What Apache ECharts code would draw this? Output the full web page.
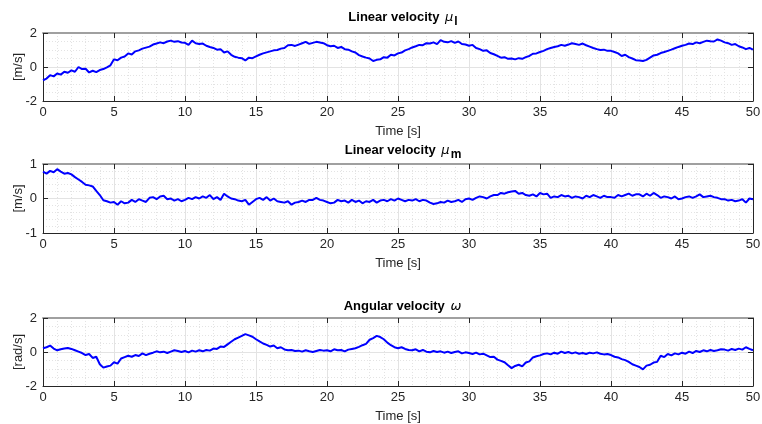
<!DOCTYPE html>
<html>
<head>
<meta charset="utf-8">
<script src="https://cdn.jsdelivr.net/npm/echarts@6/dist/echarts.min.js"></script>
<style>
  html, body { margin: 0; padding: 0; background: #fff; }
  #chart { width: 762px; height: 424px; }
</style>
</head>
<body>
<div id="chart"></div>
<script>
// sample step of the traces [s]
var step = 0.25;

// linear velocity mu_l [m/s], one value every 0.25 s from 0 to 50 s
var velL = [
  -0.78, -0.68, -0.48, -0.55, -0.38, -0.45, -0.28, -0.34, -0.20, -0.28, 0.00, -0.12, -0.10, -0.32, -0.22, -0.30, -0.18, -0.12, -0.02, 0.10,
  0.45, 0.40, 0.55, 0.62, 0.80, 0.74, 0.92, 0.98, 1.08, 1.14, 1.20, 1.32, 1.38, 1.45, 1.40, 1.50, 1.55, 1.48, 1.52, 1.44,
  1.42, 1.30, 1.55, 1.40, 1.35, 1.38, 1.25, 1.18, 1.12, 1.02, 1.05, 0.85, 0.92, 0.72, 0.60, 0.55, 0.52, 0.38, 0.55, 0.52,
  0.62, 0.72, 0.80, 0.86, 0.92, 0.98, 1.00, 1.08, 1.12, 1.28, 1.30, 1.24, 1.32, 1.40, 1.48, 1.36, 1.42, 1.48, 1.44, 1.40,
  1.28, 1.22, 1.25, 1.12, 1.18, 1.05, 1.02, 0.92, 0.85, 0.70, 0.62, 0.55, 0.50, 0.35, 0.42, 0.45, 0.58, 0.55, 0.72, 0.68,
  0.80, 0.85, 0.98, 1.05, 1.15, 1.22, 1.30, 1.28, 1.40, 1.38, 1.45, 1.35, 1.58, 1.48, 1.45, 1.52, 1.42, 1.50, 1.35, 1.32,
  1.25, 1.30, 1.12, 1.05, 0.95, 0.98, 0.82, 0.75, 0.65, 0.55, 0.58, 0.48, 0.50, 0.45, 0.52, 0.48, 0.58, 0.65, 0.78, 0.80,
  0.88, 0.95, 1.05, 1.12, 1.18, 1.22, 1.30, 1.25, 1.32, 1.40, 1.35, 1.30, 1.38, 1.28, 1.20, 1.12, 1.05, 1.00, 1.02, 0.95,
  0.95, 0.88, 0.80, 0.65, 0.72, 0.58, 0.50, 0.40, 0.38, 0.35, 0.42, 0.55, 0.68, 0.72, 0.82, 0.88, 0.95, 1.02, 1.10, 1.18,
  1.25, 1.30, 1.38, 1.35, 1.45, 1.40, 1.48, 1.55, 1.52, 1.50, 1.62, 1.55, 1.45, 1.40, 1.30, 1.35, 1.22, 1.15, 1.05, 1.12,
  1.02
];

// linear velocity mu_m [m/s]
var velM = [
  0.78, 0.72, 0.80, 0.76, 0.85, 0.78, 0.72, 0.74, 0.70, 0.62, 0.55, 0.48, 0.40, 0.38, 0.35, 0.22, 0.10, -0.05, -0.08, -0.12,
  -0.10, -0.18, -0.08, -0.14, -0.12, -0.04, -0.10, -0.02, -0.06, -0.10, 0.02, 0.04, -0.02, 0.06, 0.08, -0.02, 0.00, -0.06, -0.02, -0.08,
  -0.04, 0.02, -0.02, 0.04, 0.00, 0.06, 0.02, 0.10, -0.02, 0.04, -0.04, 0.14, 0.06, 0.00, -0.02, -0.06, -0.08, -0.04, -0.18, -0.10,
  -0.02, 0.02, -0.04, 0.04, -0.06, 0.00, -0.08, -0.10, -0.12, -0.08, -0.18, -0.12, -0.10, -0.06, -0.10, -0.04, -0.04, 0.02, -0.04, -0.06,
  -0.10, -0.14, -0.12, -0.04, -0.08, -0.06, -0.12, -0.04, -0.10, -0.06, -0.14, -0.08, -0.10, -0.04, -0.12, -0.06, -0.04, -0.08, -0.02, -0.06,
  0.00, -0.04, -0.08, -0.04, -0.06, -0.02, -0.08, -0.04, -0.06, -0.12, -0.16, -0.14, -0.10, -0.12, -0.06, -0.10, -0.08, -0.04, -0.10, -0.02,
  0.00, -0.04, 0.02, 0.06, 0.04, 0.00, 0.06, 0.10, 0.10, 0.16, 0.14, 0.18, 0.20, 0.22, 0.14, 0.16, 0.10, 0.08, 0.12, 0.06,
  0.16, 0.12, 0.14, 0.02, 0.06, 0.04, 0.10, 0.06, 0.08, 0.02, 0.06, 0.04, 0.00, 0.08, 0.04, 0.10, 0.06, 0.02, 0.08, 0.04,
  0.04, 0.02, 0.10, 0.06, 0.10, 0.14, 0.08, 0.12, 0.12, 0.06, 0.14, 0.08, 0.16, 0.10, 0.02, 0.06, 0.04, 0.00, 0.06, -0.02,
  0.00, 0.04, 0.06, 0.02, 0.06, 0.12, 0.04, 0.06, 0.08, 0.04, 0.02, -0.02, -0.02, -0.06, -0.04, -0.08, -0.06, -0.02, -0.12, 0.00,
  -0.02
];

// angular velocity omega [rad/s]
var velW = [
  0.22, 0.28, 0.38, 0.20, 0.10, 0.16, 0.20, 0.24, 0.18, 0.10, 0.02, -0.06, -0.18, -0.12, -0.35, -0.28, -0.72, -0.92, -0.85, -0.80,
  -0.60, -0.68, -0.38, -0.30, -0.22, -0.28, -0.18, -0.24, -0.08, -0.18, -0.10, -0.04, 0.04, -0.02, 0.02, -0.06, 0.02, 0.10, 0.06, 0.00,
  0.06, -0.02, 0.08, 0.02, 0.10, 0.04, 0.12, 0.08, 0.20, 0.18, 0.32, 0.30, 0.45, 0.60, 0.75, 0.85, 0.95, 1.05, 0.98, 0.90,
  0.75, 0.62, 0.50, 0.42, 0.32, 0.38, 0.22, 0.28, 0.15, 0.10, 0.12, 0.06, 0.08, 0.02, 0.10, 0.04, 0.00, 0.06, 0.12, 0.08,
  0.10, 0.04, 0.16, 0.10, 0.12, 0.04, 0.14, 0.18, 0.22, 0.30, 0.40, 0.48, 0.72, 0.82, 0.95, 0.88, 0.75, 0.55, 0.40, 0.28,
  0.22, 0.28, 0.18, 0.12, 0.10, 0.16, 0.04, 0.12, 0.02, -0.02, 0.06, 0.00, 0.04, -0.04, 0.02, -0.06, 0.00, 0.04, -0.08, -0.02,
  -0.06, -0.12, -0.04, -0.14, -0.10, -0.20, -0.30, -0.28, -0.45, -0.52, -0.60, -0.78, -0.95, -0.82, -0.75, -0.85, -0.62, -0.55, -0.32, -0.25,
  -0.20, -0.12, -0.08, -0.14, -0.04, -0.10, 0.02, -0.06, 0.00, -0.08, -0.02, -0.10, -0.06, -0.12, -0.04, -0.08, -0.02, -0.10, -0.14, -0.12,
  -0.18, -0.28, -0.32, -0.42, -0.48, -0.58, -0.72, -0.80, -0.88, -1.02, -0.80, -0.75, -0.62, -0.58, -0.22, -0.30, -0.12, -0.20, -0.08, -0.14,
  -0.04, -0.10, 0.02, -0.06, 0.06, 0.00, 0.10, 0.04, 0.12, 0.06, 0.10, 0.16, 0.14, 0.08, 0.18, 0.12, 0.20, 0.14, 0.28, 0.18,
  0.10
];

var titles = ['Linear velocity ', 'Linear velocity ', 'Angular velocity '];
var symbols = ['μ', 'μ', 'ω'];
var subs = ['l', 'm', ''];
var yNames = ['[m/s]', '[m/s]', '[rad/s]'];
var yMin = [-2, -1, -2];
var yMax = [2, 1, 2];
var yStep = [2, 1, 2];
var yMinor = [4, 5, 4];
var xName = 'Time [s]';

var gridTops = [33, 164, 318];
var gridH = [68, 69, 68];
var titleTops = [2, 135, 295];

var chart = echarts.init(document.getElementById('chart'));
var font = 'Liberation Sans, Arial, sans-serif';
var dark = '#262626';

function pairs(arr) {
  return arr.map(function (v, i) { return [i * step, v]; });
}

var grid = [], xAxis = [], yAxis = [], series = [], title = [];
var allData = [velL, velM, velW];

for (var k = 0; k < 3; k++) {
  grid.push({ left: 43, width: 710, top: gridTops[k], height: gridH[k], show: false, containLabel: false, outerBoundsMode: 'none' });
  title.push({
    text: '{b|' + titles[k] + '}{s|' + symbols[k] + '}' + (subs[k] ? '{sub|' + subs[k] + '}' : ''),
    left: 398, top: titleTops[k], textAlign: 'center',
    textStyle: {
      fontWeight: 'normal',
      rich: {
        b: { fontFamily: font, fontSize: 13, fontWeight: 'bold', color: '#000' },
        s: { fontFamily: 'DejaVu Sans, sans-serif', fontSize: 13, fontStyle: 'italic', fontWeight: 'normal', color: '#000', padding: [0, 1, 0, 2] },
        sub: { fontFamily: font, fontSize: 12, fontWeight: 'bold', color: '#000', padding: [9, 0, 0, 0] }
      }
    }
  });
  // bottom x axis
  xAxis.push({
    type: 'value', gridIndex: k, min: 0, max: 50, interval: 5, position: 'bottom',
    name: xName, nameLocation: 'middle', nameGap: 24,
    nameTextStyle: { fontFamily: font, fontSize: 13, color: dark },
    axisLine: { onZero: false, lineStyle: { color: dark, width: 1 } },
    axisTick: { inside: true, length: 5, lineStyle: { color: dark } },
    axisLabel: { fontFamily: font, fontSize: 13, color: dark, margin: 5 },
    minorTick: { show: false, splitNumber: 5 },
    splitLine: { show: true, lineStyle: { color: '#e3e3e3', width: 1 } },
    minorSplitLine: { show: true, lineStyle: { color: '#e3e3e3', type: [1, 2], width: 1 } }
  });
  // top x axis (box)
  xAxis.push({
    type: 'value', gridIndex: k, min: 0, max: 50, interval: 5, position: 'top',
    axisLine: { onZero: false, lineStyle: { color: '#a0a0a0', width: 2 } },
    axisTick: { inside: true, length: 5, lineStyle: { color: dark } },
    axisLabel: { show: false },
    splitLine: { show: false }
  });
  yAxis.push({
    type: 'value', gridIndex: k, min: yMin[k], max: yMax[k], interval: yStep[k], position: 'left',
    name: yNames[k], nameLocation: 'middle', nameGap: 18, nameMoveOverlap: false,
    nameTextStyle: { fontFamily: font, fontSize: 13, color: dark },
    axisLine: { show: true, onZero: false, lineStyle: { color: dark, width: 1 } },
    axisTick: { show: true, inside: true, length: 5, lineStyle: { color: dark } },
    axisLabel: { fontFamily: font, fontSize: 13, color: dark, margin: 6 },
    minorTick: { show: false, splitNumber: yMinor[k] },
    splitLine: { show: true, lineStyle: { color: '#e3e3e3', width: 1 } },
    minorSplitLine: { show: true, lineStyle: { color: '#e3e3e3', type: [1, 2], width: 1 } }
  });
  yAxis.push({
    type: 'value', gridIndex: k, min: yMin[k], max: yMax[k], interval: yStep[k], position: 'right',
    axisLine: { show: true, onZero: false, lineStyle: { color: dark, width: 1 } },
    axisTick: { show: true, inside: true, length: 5, lineStyle: { color: dark } },
    axisLabel: { show: false },
    splitLine: { show: false }
  });
  series.push({
    type: 'line', xAxisIndex: 2 * k, yAxisIndex: 2 * k,
    data: pairs(allData[k]), showSymbol: false, animation: false,
    lineStyle: { color: '#0000ff', width: 2 }
  });
}

chart.setOption({
  animation: false,
  title: title,
  grid: grid,
  xAxis: xAxis,
  yAxis: yAxis,
  series: series
});
</script>
</body>
</html>
